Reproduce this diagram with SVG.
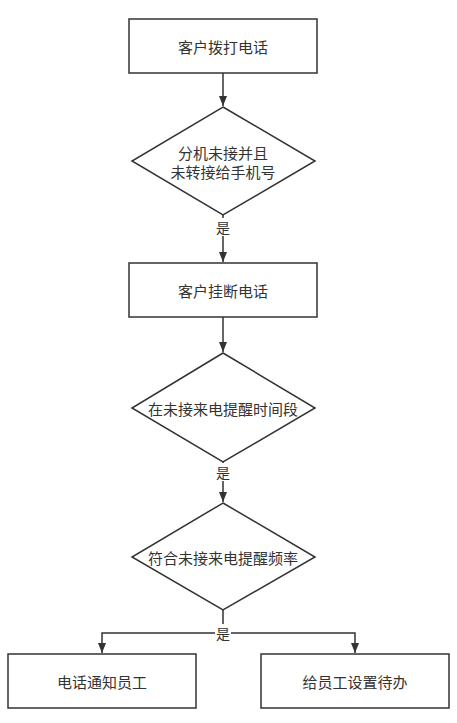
<svg xmlns="http://www.w3.org/2000/svg" width="457" height="723" viewBox="0 0 457 723">
<style>
.n{fill:#fff;stroke:#333;stroke-width:1.5}
.t{font-family:"Noto Sans CJK SC","Liberation Sans",sans-serif;font-size:15px;fill:#333;text-anchor:middle;dominant-baseline:central}
.c{fill:none;stroke:#333;stroke-width:1.5}
.l{font-family:"Noto Sans CJK SC","Liberation Sans",sans-serif;font-size:14px;fill:#333;text-anchor:middle;dominant-baseline:central}
</style>
<defs>
<marker id="a" viewBox="0 0 10 8" refX="10" refY="4" markerWidth="10" markerHeight="8" markerUnits="userSpaceOnUse" orient="auto">
<path d="M0,0 L10,4 L0,8 Z" fill="#333"/>
</marker>
</defs>
<rect width="457" height="723" fill="#fff"/>
<g id="connectors">
<path class="c" d="M223,73 V106" marker-end="url(#a)"/>
<path class="c" d="M223,215 V262" marker-end="url(#a)"/>
<path class="c" d="M223,317 V352" marker-end="url(#a)"/>
<path class="c" d="M223,462 V502" marker-end="url(#a)"/>
<path class="c" d="M223,610 V633 H102 V653" marker-end="url(#a)"/>
<path class="c" d="M223,633 H355 V653" marker-end="url(#a)"/>
<rect x="215" y="218" width="16" height="18" fill="#fff"/>
<text class="l" x="223" y="227">是</text>
<rect x="215" y="463" width="16" height="18" fill="#fff"/>
<text class="l" x="223" y="472">是</text>
<rect x="215" y="624" width="16" height="18" fill="#fff"/>
<text class="l" x="223" y="633">是</text>
</g>
<g id="n1"><rect class="n" x="129" y="19" width="188" height="54"/><text class="t" x="223" y="46">客户拨打电话</text></g>
<g id="n2"><polygon class="n" points="223,107 315,161 223,215 132,161"/><text class="t" x="223" y="152">分机未接并且</text><text class="t" x="223" y="171">未转接给手机号</text></g>
<g id="n3"><rect class="n" x="129" y="263" width="188" height="54"/><text class="t" x="223" y="290">客户挂断电话</text></g>
<g id="n4"><polygon class="n" points="223,353 315,408 223,462 132,408"/><text class="t" x="223" y="408">在未接来电提醒时间段</text></g>
<g id="n5"><polygon class="n" points="223,503 315,557 223,610 132,557"/><text class="t" x="223" y="557">符合未接来电提醒频率</text></g>
<g id="n6"><rect class="n" x="8" y="654" width="188" height="54"/><text class="t" x="102" y="681">电话通知员工</text></g>
<g id="n7"><rect class="n" x="261" y="654" width="188" height="54"/><text class="t" x="355" y="681">给员工设置待办</text></g>
</svg>
